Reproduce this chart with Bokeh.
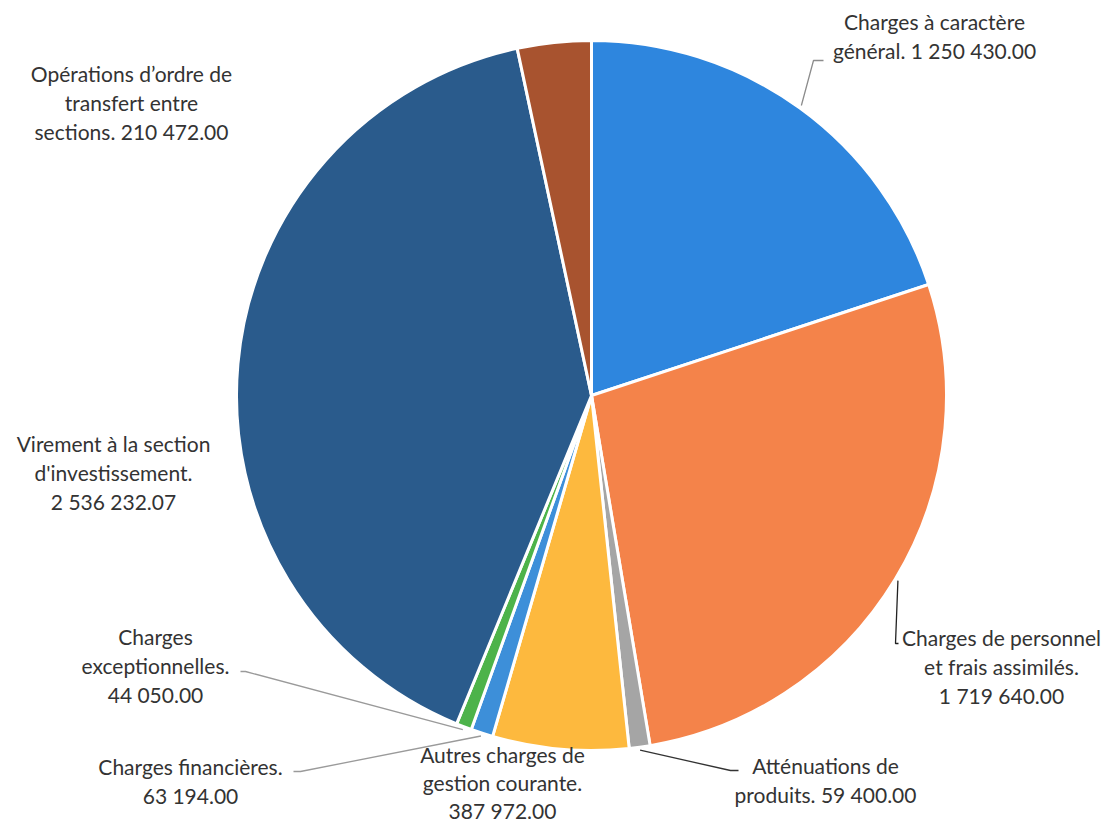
import math
from bokeh.plotting import figure
from bokeh.models import Range1d, ColumnDataSource
from bokeh.core.properties import value
from bokeh.embed import file_html
from bokeh.resources import INLINE

# ---- data ----
categories = [
    "Charges à caractère général",
    "Charges de personnel et frais assimilés",
    "Atténuations de produits",
    "Autres charges de gestion courante",
    "Charges financières",
    "Charges exceptionnelles",
    "Virement à la section d'investissement",
    "Opérations d’ordre de transfert entre sections",
]
amounts = [1250430.00, 1719640.00, 59400.00, 387972.00, 63194.00, 44050.00, 2536232.07, 210472.00]
label_templates = [
    ["Charges à caractère", "général. {v}"],
    ["Charges de personnel", "et frais assimilés.", "{v}"],
    ["Atténuations de", "produits. {v}"],
    ["Autres charges de", "gestion courante.", "{v}"],
    ["Charges financières.", "{v}"],
    ["Charges", "exceptionnelles.", "{v}"],
    ["Virement à la section", "d'investissement.", "{v}"],
    ["Opérations d’ordre de", "transfert entre", "sections. {v}"],
]

# ---- styling / layout ----
colors = ["#2E86DE", "#F4834A", "#A5A5A5", "#FDB93E", "#3D8FD9", "#4DB34A", "#2A5B8C", "#A8532F"]
label_pos = [(934, 21), (1001, 637), (825, 765), (502, 754), (190, 766), (155, 636), (113, 443), (131, 73)]
line_gap = [29, 29, 29, 28, 29, 29, 29, 29]
leaders = [
    [(813, 60), (823, 60)],
    [(895, 643), (898, 643)],
    [(730, 770), (738, 770)],
    None,
    [(300, 771), (293, 771)],
    [(245, 671), (240, 671)],
    None,
    None,
]
leader_colors = ["#8c8c8c", "#222222", "#333333", None, "#9a9a9a", "#9a9a9a", None, None]

W, H = 1104, 822
def sy(y):  # screen y -> data y
    return 830 - y

cx, cy, R = 591, sy(395), 355

total = sum(amounts)
starts, ends, mids = [], [], []
cum = 0.0
for a in amounts:
    s = math.pi / 2 - 2 * math.pi * cum / total
    cum += a
    e = math.pi / 2 - 2 * math.pi * cum / total
    starts.append(s); ends.append(e); mids.append((s + e) / 2)

p = figure(width=W, height=H, x_range=Range1d(0, W), y_range=Range1d(830 - H, 830),
           output_backend="svg", toolbar_location=None, min_border=0)
p.axis.visible = False
p.grid.visible = False
p.outline_line_color = None
p.background_fill_color = "white"

src = ColumnDataSource(dict(cat=categories, amt=amounts, start=starts, end=ends, color=colors))
p.wedge(x=cx, y=cy, radius=R, start_angle="start", end_angle="end", direction="clock",
        fill_color="color", line_color="white", line_width=3, source=src)

def fmt(v):
    return f"{v:,.2f}".replace(",", " ")

for i, ld in enumerate(leaders):
    if ld is None:
        continue
    x0 = cx + (R + 3) * math.cos(mids[i])
    y0 = cy + (R + 3) * math.sin(mids[i])
    xs = [x0] + [pt[0] for pt in ld]
    ys = [y0] + [sy(pt[1]) for pt in ld]
    p.line(xs, ys, line_color=leader_colors[i], line_width=1.3)

tx, ty, tt = [], [], []
for i, tmpl in enumerate(label_templates):
    x, y = label_pos[i]
    for j, line in enumerate(tmpl):
        tx.append(x); ty.append(sy(y + line_gap[i] * j)); tt.append(line.format(v=fmt(amounts[i])))
p.text(x=tx, y=ty, text=tt, text_align="center", text_baseline="middle",
       text_font=value("Lato"), text_font_size="21px", text_color="#333333")

open("out.html", "w").write(file_html(p, INLINE))
